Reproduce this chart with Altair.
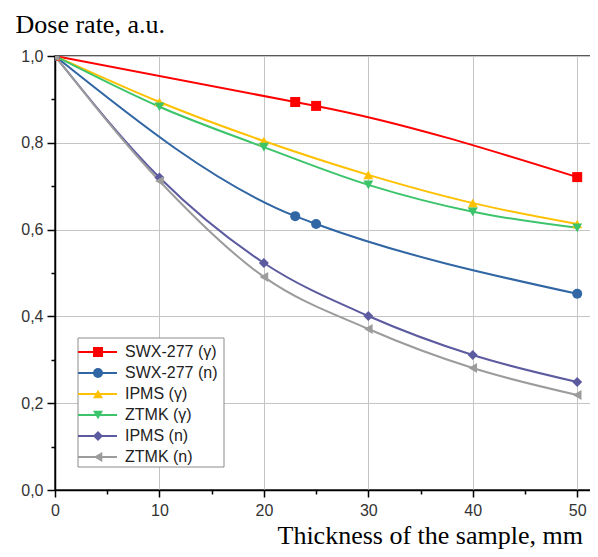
import altair as alt
import pandas as pd

series = ["SWX-277 (γ)", "SWX-277 (n)", "IPMS (γ)", "ZTMK (γ)", "IPMS (n)", "ZTMK (n)"]
colors = ["#ff0000", "#2f66a3", "#ffc000", "#3cc46a", "#5d5b9f", "#9c9c9c"]
shapes = ["square", "circle", "triangle-up", "triangle-down", "diamond", "triangle-left"]

swx_x = [0, 23, 25, 50]
swx_gamma = [1.0, 0.894, 0.885, 0.721]
swx_n = [1.0, 0.631, 0.613, 0.452]

thick = [0, 10, 20, 30, 40, 50]
ipms_gamma = [1.0, 0.894, 0.804, 0.726, 0.661, 0.613]
ztmk_gamma = [1.0, 0.883, 0.790, 0.703, 0.641, 0.604]
ipms_n = [1.0, 0.720, 0.523, 0.401, 0.311, 0.249]
ztmk_n = [1.0, 0.712, 0.491, 0.371, 0.281, 0.219]

x_ticks = [0, 5, 10, 15, 20, 25, 30, 35, 40, 45, 50]
y_ticks = [0.0, 0.1, 0.2, 0.3, 0.4, 0.5, 0.6, 0.7, 0.8, 0.9, 1.0]

rows = []
for name, xs, ys in [
    (series[0], swx_x, swx_gamma),
    (series[1], swx_x, swx_n),
    (series[2], thick, ipms_gamma),
    (series[3], thick, ztmk_gamma),
    (series[4], thick, ipms_n),
    (series[5], thick, ztmk_n),
]:
    for xv, yv in zip(xs, ys):
        rows.append({"series": name, "x": xv, "y": yv})
df = pd.DataFrame(rows)

legend_df = pd.DataFrame({"series": series, "idx": list(range(len(series)))})

color_scale = alt.Scale(domain=series, range=colors)
shape_scale = alt.Scale(domain=series, range=shapes)

minor_x = "datum.value % 10 != 0"
minor_y = "round(datum.value * 10) % 2 != 0"

x_axis = alt.Axis(
    values=x_ticks,
    title="Thickness of the sample, mm",
    labelExpr="datum.value % 10 == 0 ? format(datum.value, 'd') : ''",
    tickSize={"condition": {"test": minor_x, "value": 4}, "value": 7},
    gridOpacity={"condition": {"test": minor_x, "value": 0}, "value": 1},
    labelFlush=False,
    labelOverlap=False,
    labelPadding=5,
    titleX=222,
    titleY=53,
    titleAlign="left",
    titleBaseline="alphabetic",
    titleAnchor="start",
)
y_axis = alt.Axis(
    values=y_ticks,
    title="Dose rate, a.u.",
    labelExpr="round(datum.value * 10) % 2 == 0 ? replace(format(datum.value, '.1f'), '.', ',') : ''",
    tickSize={"condition": {"test": minor_y, "value": 4}, "value": 8},
    gridOpacity={"condition": {"test": minor_y, "value": 0}, "value": 1},
    labelFlush=False,
    labelOverlap=False,
    labelPadding=4,
    titleAngle=0,
    titleX=-40,
    titleY=-24,
    titleAlign="left",
    titleBaseline="alphabetic",
    titleAnchor="start",
)

X = alt.X("x:Q", scale=alt.Scale(domain=[0, 51.8], nice=False, zero=False), axis=x_axis)
Y = alt.Y("y:Q", scale=alt.Scale(domain=[0, 1.0], nice=False), axis=y_axis)

lines = alt.Chart(df).mark_line(strokeWidth=2, interpolate="monotone", clip=True).encode(
    x=X, y=Y,
    color=alt.Color("series:N", scale=color_scale, legend=None),
    detail="series:N",
)
points = alt.Chart(df).mark_point(filled=True, size=100, opacity=1, clip=True).encode(
    x="x:Q", y="y:Q",
    color=alt.Color("series:N", scale=color_scale, legend=None),
    shape=alt.Shape("series:N", scale=shape_scale, legend=None),
)

base_leg = alt.Chart(legend_df).transform_calculate(py="296 + 21 * datum.idx")
leg_box = alt.Chart(legend_df).mark_rect(fill="white", stroke="#8c8c8c", strokeWidth=1).encode(
    x=alt.value(23), x2=alt.value(169), y=alt.value(282), y2=alt.value(411)
).transform_filter("datum.idx == 0")
leg_rule = base_leg.mark_rule(strokeWidth=2).encode(
    x=alt.value(23), x2=alt.value(62),
    y=alt.Y("py:Q", scale=None),
    color=alt.Color("series:N", scale=color_scale, legend=None),
)
leg_pt = base_leg.mark_point(filled=True, size=100, opacity=1).encode(
    x=alt.value(43),
    y=alt.Y("py:Q", scale=None),
    color=alt.Color("series:N", scale=color_scale, legend=None),
    shape=alt.Shape("series:N", scale=shape_scale, legend=None),
)
leg_txt = base_leg.mark_text(align="left", baseline="middle", font="Liberation Sans",
                             fontSize=16, color="#222222").encode(
    x=alt.value(70),
    y=alt.Y("py:Q", scale=None),
    text="series:N",
)

chart = alt.layer(lines, points, leg_box, leg_rule, leg_pt, leg_txt).properties(
    width=541,
    height=434,
    autosize=alt.AutoSizeParams(type="none"),
    padding={"left": 47, "top": 48, "right": -6, "bottom": 59},
).configure_view(
    stroke="#222222", strokeWidth=1.5
).configure_axis(
    domainColor="#000000",
    domainWidth=1.5,
    tickColor="#000000",
    tickWidth=1.5,
    gridColor="#c4c4c4",
    gridWidth=1,
    labelFont="Liberation Sans",
    labelFontSize=16,
    labelColor="#333333",
    titleFont="Liberation Serif",
    titleFontSize=26,
    titleFontWeight="normal",
    titleColor="#000000",
)

chart.save("out.html", embed_options={"renderer": "svg", "actions": False})
